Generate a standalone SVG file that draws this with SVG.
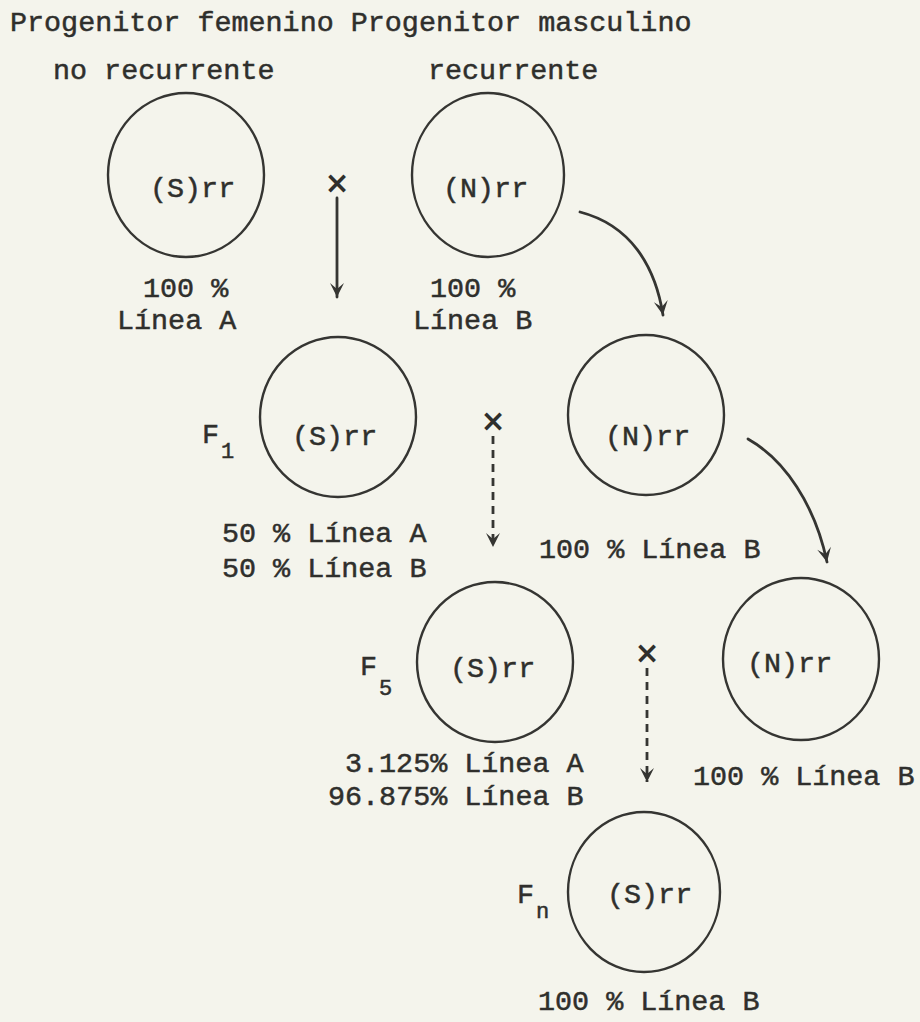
<svg xmlns="http://www.w3.org/2000/svg" width="920" height="1022" viewBox="0 0 920 1022">
  <defs>
    <style>
      .t { font-family: "Liberation Mono", "Courier New", monospace; font-size: 28.4px; fill: #2f2f2c; stroke: #2f2f2c; stroke-width: 0.5px; }
      .sub { font-family: "Liberation Mono", "Courier New", monospace; font-size: 22px; fill: #2f2f2c; stroke: #2f2f2c; stroke-width: 0.5px; }
      .x { font-family: "DejaVu Sans", sans-serif; font-size: 30px; font-weight: bold; fill: #2f2f2c; text-anchor: middle; }
      .node { fill: none; stroke: #353532; stroke-width: 2.4; }
      .solid { fill: none; stroke: #353532; stroke-width: 2.8; stroke-linecap: round; }
      .dash { fill: none; stroke: #353532; stroke-width: 2.8; stroke-dasharray: 8 6; }
    </style>
    <marker id="ah" viewBox="-15 -8 16 16" refX="0" refY="0" markerWidth="16" markerHeight="16" orient="auto" markerUnits="userSpaceOnUse">
      <path d="M0,0 L-14,-7 L-8,0 L-14,7 Z" fill="#353532"/>
    </marker>
  </defs>
  <rect x="0" y="0" width="920" height="1022" fill="#f4f4ec"/>

  <g id="headers">
    <text class="t" x="10" y="31">Progenitor femenino Progenitor masculino</text>
    <text class="t" x="53" y="79">no recurrente</text>
    <text class="t" x="428" y="79">recurrente</text>
  </g>

  <g id="connectors">
    <text class="x" x="337" y="193">×</text>
    <path class="solid" d="M337,198 L337,297" marker-end="url(#ah)"/>
    <path class="solid" d="M580,212 C630,225 655,265 663,315" marker-end="url(#ah)"/>
    <text class="x" x="493" y="431">×</text>
    <path class="dash" d="M493,436 L493,547" marker-end="url(#ah)"/>
    <path class="solid" d="M748,439 C785,460 815,505 827,562" marker-end="url(#ah)"/>
    <text class="x" x="647" y="663">×</text>
    <path class="dash" d="M647,668 L647,782" marker-end="url(#ah)"/>
  </g>

  <g id="parentA">
    <ellipse class="node" cx="186" cy="175" rx="78" ry="82"/>
    <text class="t" x="150" y="197">(S)rr</text>
    <text class="t" x="143" y="297">100 %</text>
    <text class="t" x="117" y="329">Línea A</text>
  </g>

  <g id="parentB">
    <ellipse class="node" cx="488" cy="175" rx="76" ry="82"/>
    <text class="t" x="443" y="197">(N)rr</text>
    <text class="t" x="430" y="297">100 %</text>
    <text class="t" x="413" y="329">Línea B</text>
  </g>

  <g id="F1">
    <ellipse class="node" cx="338" cy="417" rx="78" ry="80"/>
    <text class="t" x="292" y="445">(S)rr</text>
    <text class="t" x="202" y="443">F</text>
    <text class="sub" x="221" y="458">1</text>
    <text class="t" x="222" y="542">50 % Línea A</text>
    <text class="t" x="222" y="577">50 % Línea B</text>
  </g>

  <g id="B2">
    <ellipse class="node" cx="646" cy="415" rx="78" ry="80"/>
    <text class="t" x="605" y="445">(N)rr</text>
    <text class="t" x="539" y="558">100 % Línea B</text>
  </g>

  <g id="F5">
    <ellipse class="node" cx="495" cy="662" rx="78" ry="80"/>
    <text class="t" x="450" y="677">(S)rr</text>
    <text class="t" x="360" y="675">F</text>
    <text class="sub" x="379" y="695">5</text>
    <text class="t" x="345" y="772">3.125% Línea A</text>
    <text class="t" x="328" y="805">96.875% Línea B</text>
  </g>

  <g id="B3">
    <ellipse class="node" cx="801" cy="659" rx="78" ry="81"/>
    <text class="t" x="747" y="672">(N)rr</text>
    <text class="t" x="693" y="785">100 % Línea B</text>
  </g>

  <g id="Fn">
    <ellipse class="node" cx="644" cy="892" rx="76" ry="80"/>
    <text class="t" x="607" y="903">(S)rr</text>
    <text class="t" x="517" y="903">F</text>
    <text class="sub" x="536" y="918">n</text>
    <text class="t" x="538" y="1010">100 % Línea B</text>
  </g>
</svg>
